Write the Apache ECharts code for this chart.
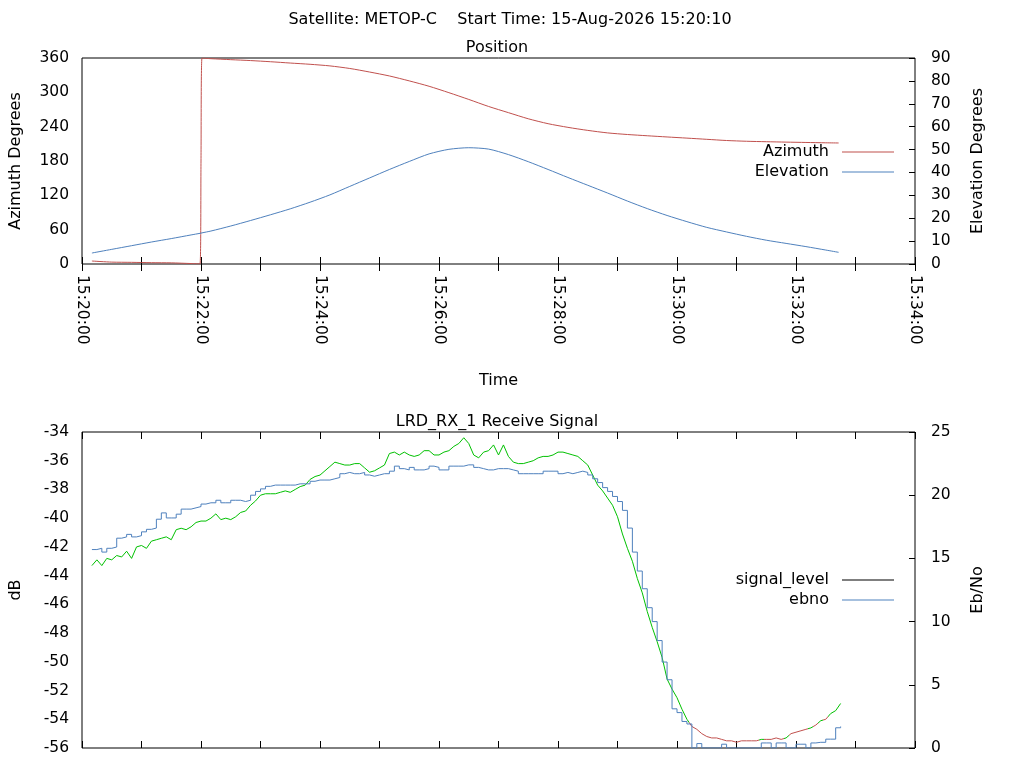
<!DOCTYPE html>
<html>
<head>
<meta charset="utf-8">
<title>Satellite pass</title>
<script src="https://cdn.jsdelivr.net/npm/echarts@6/dist/echarts.min.js"></script>
<style>
  html, body { margin: 0; padding: 0; background: #fff; }
  #chart { width: 1024px; height: 768px; }
</style>
</head>
<body>
<div id="chart"></div>
<script>
const axisStart = '15:20:00';
const axisEnd = '15:34:00';

// position samples
const posTimes = [
  '15:20:10', '15:20:30', '15:20:50', '15:21:10', '15:21:30', '15:21:50', '15:21:59', '15:22:00', '15:22:01',
  '15:22:10', '15:22:30', '15:22:50', '15:23:10', '15:23:30', '15:23:50', '15:24:10', '15:24:30', '15:24:50',
  '15:25:10', '15:25:30', '15:25:50', '15:26:10', '15:26:30', '15:26:50', '15:27:10', '15:27:30', '15:27:50',
  '15:28:10', '15:28:30', '15:28:50', '15:29:10', '15:29:30', '15:29:50', '15:30:10', '15:30:30', '15:30:50',
  '15:31:10', '15:31:30', '15:31:50', '15:32:10', '15:32:30', '15:32:43'
];
const azimuth = [
  5.2, 3.3, 2.9, 2.3, 2.0, 0.8, 0.2, 180, 359.8,
  358.8, 357.1, 355.5, 353.5, 351.2, 349.0, 346.2, 341.7, 335.5,
  328.6, 320.0, 310.6, 299.4, 287.6, 275.3, 264.5, 253.8, 245.2,
  238.8, 233.5, 229.1, 226.3, 224.1, 222.0, 220.0, 217.9, 215.8,
  214.5, 213.7, 213.0, 212.4, 211.8, 211.5
];
const elevation = [
  4.8, 6.4, 8.0, 9.6, 11.1, 12.7, 13.4, 13.5, 13.6,
  14.4, 16.6, 19.0, 21.5, 24.1, 27.0, 30.2, 33.9, 37.6,
  41.3, 44.8, 48.1, 50.1, 50.8, 50.2, 47.8, 44.7, 41.3,
  37.8, 34.4, 31.0, 27.5, 24.2, 21.2, 18.5, 16.0, 14.0,
  12.1, 10.4, 9.0, 7.6, 6.1, 5.1
];

// receive signal, one sample every 5 s from 15:20:10
const sigStart = '15:20:10';
const sigStepSec = 5;
const signalLevel = [
  -43.3, -42.9, -43.3, -42.8, -42.9, -42.6, -42.7, -42.3, -42.8, -42.0,
  -41.9, -42.1, -41.6, -41.5, -41.4, -41.3, -41.5, -40.8, -40.7, -40.8,
  -40.6, -40.3, -40.2, -40.2, -40.0, -39.7, -40.1, -40.0, -40.1, -39.9,
  -39.6, -39.5, -39.1, -38.8, -38.4, -38.3, -38.3, -38.3, -38.2, -38.1,
  -38.2, -38.0, -37.8, -37.7, -37.3, -37.1, -37.0, -36.7, -36.4, -36.1,
  -36.2, -36.3, -36.3, -36.2, -36.2, -36.5, -36.8, -36.7, -36.5, -36.3,
  -35.5, -35.4, -35.6, -35.4, -35.6, -35.7, -35.6, -35.3, -35.3, -35.6,
  -35.6, -35.4, -35.3, -35.0, -34.8, -34.4, -34.8, -35.6, -35.8, -35.4,
  -35.3, -34.9, -35.6, -34.9, -35.7, -36.1, -36.2, -36.2, -36.1, -36.0,
  -35.8, -35.7, -35.7, -35.6, -35.4, -35.4, -35.5, -35.6, -35.7, -36.0,
  -36.3, -37.0, -37.7, -38.1, -38.6, -39.1, -39.9, -41.1, -42.1, -43.0,
  -44.2, -45.2, -46.5, -47.6, -48.6, -49.7, -51.2, -51.9, -52.5, -53.3,
  -54.0, -54.5, -54.7, -55.0, -55.2, -55.3, -55.3, -55.4, -55.5, -55.5,
  -55.6, -55.5, -55.5, -55.5, -55.5, -55.4, -55.4, -55.4, -55.3, -55.4,
  -55.3, -55.0, -54.9, -54.8, -54.7, -54.6, -54.4, -54.1, -54.0, -53.6,
  -53.4, -52.9
];
const ebno = [
  15.7, 15.8, 15.5, 15.8, 15.9, 16.6, 16.7, 16.9, 16.7, 16.8,
  17.1, 17.3, 17.4, 18.1, 18.6, 18.2, 18.2, 18.5, 18.9, 18.9,
  19.0, 19.1, 19.3, 19.4, 19.4, 19.6, 19.4, 19.4, 19.6, 19.6,
  19.5, 19.6, 20.0, 20.3, 20.5, 20.7, 20.8, 20.8, 20.8, 20.8,
  20.8, 20.9, 20.9, 20.9, 21.1, 21.2, 21.2, 21.2, 21.3, 21.4,
  21.7, 21.8, 21.7, 21.7, 21.8, 21.6, 21.5, 21.6, 21.7, 21.7,
  21.9, 22.3, 22.1, 22.0, 22.2, 22.0, 22.0, 22.1, 22.3, 22.2,
  22.0, 22.0, 22.3, 22.3, 22.3, 22.4, 22.4, 22.2, 22.1, 22.0,
  22.0, 22.1, 22.1, 22.1, 22.0, 21.9, 21.7, 21.7, 21.7, 21.7,
  21.7, 21.9, 21.9, 21.9, 21.7, 21.8, 21.7, 21.8, 21.9, 21.8,
  21.6, 21.3, 21.0, 20.6, 20.3, 19.9, 19.5, 18.8, 17.4, 15.5,
  14.0, 12.6, 11.1, 10.0, 8.5, 6.8, 5.4, 3.1, 2.8, 2.1,
  1.9, 0, 0.35, 0, 0, 0, 0, 0.3, 0, 0,
  0, 0, 0, 0, 0, 0.4, 0.4, 0, 0.4, 0.4,
  0, 0, 0.3, 0.3, 0, 0.4, 0.45, 0.45, 0.7, 0.7,
  1.6, 1.7
];
// 1 = locked (drawn green), 0 = no lock (drawn red)
const locked = [
  1, 1, 1, 1, 1, 1, 1, 1, 1, 1,
  1, 1, 1, 1, 1, 1, 1, 1, 1, 1,
  1, 1, 1, 1, 1, 1, 1, 1, 1, 1,
  1, 1, 1, 1, 1, 1, 1, 1, 1, 1,
  1, 1, 1, 1, 1, 1, 1, 1, 1, 1,
  1, 1, 1, 1, 1, 1, 1, 1, 1, 1,
  1, 1, 1, 1, 1, 1, 1, 1, 1, 1,
  1, 1, 1, 1, 1, 1, 1, 1, 1, 1,
  1, 1, 1, 1, 1, 1, 1, 1, 1, 1,
  1, 1, 1, 1, 1, 1, 1, 1, 1, 1,
  1, 1, 1, 1, 1, 1, 1, 1, 1, 1,
  1, 1, 1, 1, 1, 1, 1, 1, 1, 1,
  1, 0, 0, 0, 0, 0, 0, 0, 0, 0,
  0, 0, 0, 0, 0, 1, 0, 0, 0, 0,
  1, 0, 0, 0, 0, 1, 0, 1, 0, 1,
  1, 1
];

const red = '#c0504d';
const blue = '#4f81bd';
const green = '#00c000';
const font = 'DejaVu Sans';
const txt = { color: '#000', fontSize: 16, fontFamily: font };
const tickTxt = { color: '#000', fontSize: 15.5, fontFamily: font };

function toMs(hms) {
  const [h, m, s] = hms.split(':').map(Number);
  return Date.UTC(2026, 7, 15, h, m, s);
}
function pad(n) { return String(n).padStart(2, '0'); }
function timeLabel(v) {
  const d = new Date(v);
  if (d.getUTCMinutes() % 2) return '';
  return pad(d.getUTCHours()) + ':' + pad(d.getUTCMinutes()) + ':' + pad(d.getUTCSeconds());
}

const xMin = toMs(axisStart);
const xMax = toMs(axisEnd);
const sigStartMs = toMs(sigStart);
const sigTime = signalLevel.map((_, i) => sigStartMs + i * sigStepSec * 1000);

// turn the lock flags into colour pieces along time
const unlockPieces = [];
locked.forEach((v, i) => {
  if (v) return;
  const lo = sigTime[i] - sigStepSec * 500;
  const hi = sigTime[i] + sigStepSec * 500;
  const last = unlockPieces[unlockPieces.length - 1];
  if (last && last.lt === lo) last.lt = hi;
  else unlockPieces.push({ gte: lo, lt: hi, color: red });
});

function xAx(grid, pos, extra) {
  return Object.assign({
    gridIndex: grid, type: 'value', position: pos,
    min: xMin, max: xMax, interval: 60000,
    axisLine: { show: false },
    splitLine: { show: false },
    axisTick: { show: true, inside: true, length: 7, lineStyle: { color: '#000' } },
    axisLabel: { show: false },
    axisPointer: { show: false }
  }, extra || {});
}
function yAx(grid, pos, min, max, step, name, gap) {
  return {
    gridIndex: grid, type: 'value', position: pos,
    min: min, max: max, interval: step,
    axisLine: { show: false },
    splitLine: { show: false },
    axisTick: { show: pos === 'right', inside: true, length: 6, lineStyle: { color: '#000' } },
    axisLabel: Object.assign({ margin: pos === 'right' ? 16 : 13 }, tickTxt),
    name: name, nameLocation: 'middle', nameRotate: 90, nameGap: gap,
    nameTextStyle: txt
  };
}
function legendBox(items, top) {
  return {
    data: items, orient: 'vertical', align: 'right', right: 130, top: top, padding: 0,
    icon: 'rect', itemWidth: 52, itemHeight: 1, itemGap: 4, selectedMode: false,
    textStyle: Object.assign({ padding: [0, 8, 0, 0] }, txt)
  };
}

const chart = echarts.init(document.getElementById('chart'));
chart.setOption({
  animation: false,
  backgroundColor: '#fff',
  title: [
    { text: 'Satellite: METOP-C    Start Time: 15-Aug-2026 15:20:10', left: 510, top: 12, textAlign: 'center', padding: 0,
      textStyle: Object.assign({ fontWeight: 'normal' }, txt) },
    { text: 'Position', left: 497, top: 40, textAlign: 'center', padding: 0,
      textStyle: Object.assign({ fontWeight: 'normal' }, txt) },
    { text: 'LRD_RX_1 Receive Signal', left: 497, top: 414, textAlign: 'center', padding: 0,
      textStyle: Object.assign({ fontWeight: 'normal' }, txt) }
  ],
  grid: [
    { left: 79, right: 109, top: 58, height: 206, containLabel: false,
      show: true, borderColor: '#000', borderWidth: 1, backgroundColor: 'transparent' },
    { left: 79, right: 109, top: 432, height: 316, containLabel: false,
      show: true, borderColor: '#000', borderWidth: 1, backgroundColor: 'transparent' }
  ],
  xAxis: [
    xAx(0, 'bottom', {
      axisLabel: Object.assign({ show: true, rotate: -90, margin: 11, formatter: timeLabel }, tickTxt),
      name: 'Time', nameLocation: 'middle', nameGap: 109, nameTextStyle: txt
    }),
    xAx(0, 'top'),
    xAx(1, 'bottom'),
    xAx(1, 'top')
  ],
  yAxis: [
    yAx(0, 'left', 0, 360, 60, 'Azimuth Degrees', 58),
    yAx(0, 'right', 0, 90, 10, 'Elevation Degrees', 55),
    yAx(1, 'left', -56, -34, 2, 'dB', 58),
    yAx(1, 'right', 0, 25, 5, 'Eb/No', 55)
  ],
  legend: [
    legendBox(['Azimuth', 'Elevation'], 144),
    legendBox([{ name: 'signal_level', itemStyle: { color: '#000' } }, 'ebno'], 572)
  ],
  visualMap: [
    { type: 'piecewise', show: false, seriesIndex: 2, dimension: 0,
      pieces: unlockPieces, outOfRange: { color: green } }
  ],
  series: [
    { name: 'Azimuth', type: 'line', xAxisIndex: 0, yAxisIndex: 0, symbol: 'none', smooth: 0.25,
      color: red, lineStyle: { width: 1, color: red },
      data: posTimes.map((t, i) => [toMs(t), azimuth[i]]) },
    { name: 'Elevation', type: 'line', xAxisIndex: 0, yAxisIndex: 1, symbol: 'none', smooth: 0.25,
      color: blue, lineStyle: { width: 1, color: blue },
      data: posTimes.map((t, i) => [toMs(t), elevation[i]]) },
    { name: 'signal_level', type: 'line', xAxisIndex: 2, yAxisIndex: 2, symbol: 'none',
      color: '#000', lineStyle: { width: 1 },
      data: sigTime.map((t, i) => [t, signalLevel[i]]) },
    { name: 'ebno', type: 'line', xAxisIndex: 2, yAxisIndex: 3, symbol: 'none', step: 'end',
      color: blue, lineStyle: { width: 1, color: blue },
      data: sigTime.map((t, i) => [t, ebno[i]]) }
  ]
});
</script>
</body>
</html>
